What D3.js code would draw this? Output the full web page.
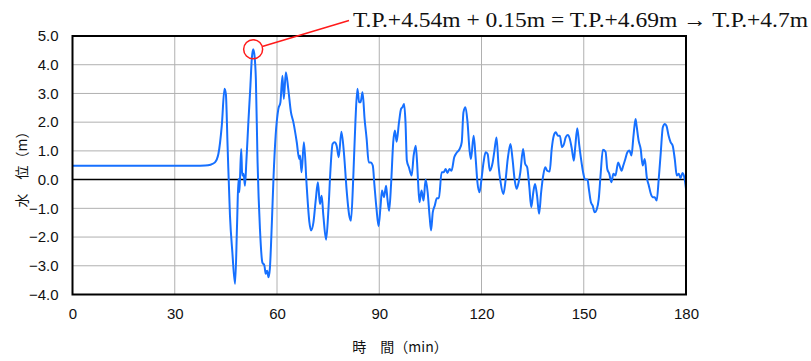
<!DOCTYPE html>
<html>
<head>
<meta charset="utf-8">
<script src="https://cdn.jsdelivr.net/npm/d3@7"></script>
<style>
  body { margin: 0; background: #fff; }
  svg { display: block; }
  .tick text { font-family: "Liberation Sans", Arial, sans-serif; font-size: 15px; fill: #111; }
</style>
</head>
<body>
<svg width="811" height="361"></svg>
<script>
// time (min) and water level (m)
var times = [0, 20, 36, 38.9, 40.5, 41.8, 42.8, 43.8, 44.6, 45.0, 45.5, 46.2, 46.9, 47.7, 48.3, 48.7, 48.9, 49.1, 49.5, 49.8,
  50.2, 50.6, 51.0, 51.6, 52.2, 52.6, 53.0, 53.4, 53.8, 54.3, 55.0, 55.7, 56.3, 56.7, 57.1, 57.5, 57.9, 58.5, 59.0, 59.6,
  60.4, 61.0, 61.6, 62.0, 62.6, 63.3, 64.1, 64.8, 65.8, 66.5, 66.75, 67.2, 67.9, 68.7, 69.5, 70.0, 70.7, 71.4, 72.0, 72.6,
  73.1, 73.6, 74.4, 75.1, 75.7, 76.3, 76.9, 77.5, 78.1, 78.9, 79.7, 80.4, 81.2, 81.7, 82.4, 83.0, 83.6, 84.1, 84.5, 85.1,
  85.7, 86.3, 86.9, 87.5, 88.1, 88.6, 89.2, 89.8, 90.4, 90.8, 91.4, 92.0, 92.4, 92.9, 93.5, 94.1, 94.6, 95.1, 95.8, 96.4,
  96.8, 97.3, 97.7, 98.1, 98.7, 99.5, 100.1, 100.7, 101.1, 101.4, 101.8, 102.4, 103.0, 103.6, 104.2, 104.8, 105.2, 105.7, 106.3, 106.9,
  107.5, 108.3, 108.9, 109.5, 110.0, 110.6, 111.2, 112.0, 112.8, 113.6, 114.2, 114.7, 115.3, 115.9, 116.5, 116.9, 117.7, 118.3, 118.8, 119.4,
  120.0, 120.6, 121.2, 121.8, 122.45, 123.2, 123.8, 124.4, 125.0, 125.6, 126.4, 127.0, 127.7, 128.5, 129.1, 129.7, 130.3, 130.9, 131.4, 132.2,
  132.8, 133.4, 134.0, 134.6, 135.2, 135.7, 136.3, 136.9, 137.5, 138.1, 138.7, 139.3, 140.0, 140.6, 141.2, 141.8, 142.4, 143.0, 143.6, 144.2,
  144.7, 145.3, 145.9, 146.5, 147.1, 147.5, 148.1, 148.7, 149.2, 149.8, 150.4, 151.1, 151.5, 152.1, 152.6, 153.2, 153.8, 154.4, 155.0, 155.6,
  156.4, 156.9, 157.5, 158.1, 158.7, 159.3, 160.1, 160.5, 161.1, 161.6, 162.2, 162.8, 163.4, 164.0, 164.6, 165.2, 165.5, 166.1, 166.7, 167.3,
  167.9, 168.5, 169.1, 169.7, 170.2, 170.8, 171.4, 172.0, 172.6, 173.2, 173.8, 174.3, 174.9, 175.5, 176.1, 176.7, 177.3, 177.9, 178.4, 179.0,
  179.6, 180.0];
var levels = [0.48, 0.48, 0.48, 0.49, 0.52, 0.6, 0.89, 1.88, 3.16, 2.98, 1.18, -1.25, -2.53, -3.63, -1.48, 0.02, -0.44, -0.09, 1.07, 0.14,
  0.2, -0.21, 0.6, 2.0, 3.27, 4.2, 4.54, 4.32, 3.5, 0.6, -1.72, -2.88, -2.99, -3.28, -3.17, -3.4, -3.11, -1.48, 0.14, 1.53,
  2.46, 2.69, 3.62, 2.81, 3.74, 3.16, 2.34, 2.0, 1.3, 0.72, 0.84, 0.26, 1.3, -0.21, -1.48, -1.77, -1.48, -0.67, -0.09, -0.85,
  -0.56, -1.25, -2.09, -1.02, 0.37, 1.24, 1.3, 1.18, 0.78, 1.67, 0.84, -0.32, -1.25, -1.43, 0.14, 2.0, 3.16, 2.69, 2.69, 3.04,
  2.11, 1.42, 0.6, 0.6, 0.49, -0.21, -1.02, -1.62, -0.9, -0.38, -0.61, -0.21, -0.67, -1.08, -0.09, 1.3, 1.71, 1.32, 2.0, 2.46,
  2.52, 2.63, 2.0, 0.66, 0.43, 0.14, 0.84, 1.18, 0.6, -0.09, -0.79, -0.38, -0.73, 0.0, -0.44, -1.32, -1.77, -1.14, -0.9, -0.65,
  -0.65, 0.26, 0.26, 0.37, 0.23, 0.37, 0.31, 0.78, 0.95, 1.07, 1.3, 2.34, 2.52, 2.0, 1.01, 0.72, 1.53, 0.72, -0.09, -0.44,
  0.02, 0.6, 0.95, 0.89, 0.31, 0.55, 1.01, 1.47, 0.49, -0.09, -0.5, -0.09, 0.72, 1.24, 0.72, 0.02, -0.32, -0.09, 0.26, 1.07,
  0.55, 0.43, -0.21, -0.96, -0.44, -0.15, -0.56, -1.19, -0.44, 0.14, 0.43, 0.31, 0.28, 1.07, 1.53, 1.65, 1.53, 1.53, 1.13, 1.24,
  1.47, 1.55, 1.42, 1.07, 0.66, 1.13, 1.79, 1.18, 0.72, 0.26, 0.0, 0.0, -0.32, -0.79, -0.9, -1.14, -1.04, -0.67, 0.26, 1.04,
  0.97, 0.37, 0.2, -0.09, 0.2, 0.14, 0.6, 0.49, 0.31, 0.49, 0.72, 0.95, 1.01, 0.84, 1.53, 2.11, 1.88, 1.36, 1.07, 0.49,
  0.72, 0.08, -0.21, -0.5, -0.61, -0.61, -0.73, 0.02, 0.95, 1.82, 1.94, 1.86, 1.53, 1.3, 1.18, 0.72, 0.14, 0.2, 0.05, 0.23,
  0.02, -0.32];

var xTicks = [0, 30, 60, 90, 120, 150, 180];
var yTicks = [-4, -3, -2, -1, 0, 1, 2, 3, 4, 5];
var peakTime = 53, peakLevel = 4.54;
var note = "T.P.+4.54m + 0.15m = T.P.+4.69m \u2192 T.P.+4.7m";

var svg = d3.select("svg");
var margin = { top: 36, right: 125, bottom: 66.5, left: 72.5 };
var width = 811 - margin.left - margin.right;
var height = 361 - margin.top - margin.bottom;

var xScale = d3.scaleLinear().domain([0, 180]).range([margin.left, margin.left + width]);
var yScale = d3.scaleLinear().domain([-4, 5]).range([margin.top + height, margin.top]);

// grid
svg.append("g")
  .selectAll("line.vg")
  .data(xTicks.slice(1, -1))
  .enter().append("line")
  .attr("x1", function (d) { return xScale(d); })
  .attr("x2", function (d) { return xScale(d); })
  .attr("y1", margin.top).attr("y2", margin.top + height)
  .attr("stroke", "#b0b0b0").attr("stroke-width", 1);

svg.append("g")
  .selectAll("line.hg")
  .data(yTicks.filter(function (d) { return d !== 0 && d !== 5 && d !== -4; }))
  .enter().append("line")
  .attr("x1", margin.left).attr("x2", margin.left + width)
  .attr("y1", function (d) { return yScale(d); })
  .attr("y2", function (d) { return yScale(d); })
  .attr("stroke", "#b0b0b0").attr("stroke-width", 1);

// zero line
svg.append("line")
  .attr("x1", margin.left).attr("x2", margin.left + width)
  .attr("y1", yScale(0)).attr("y2", yScale(0))
  .attr("stroke", "#000").attr("stroke-width", 1.5);

// axes (labels only)
var xAxis = svg.append("g")
  .attr("transform", "translate(0," + (margin.top + height) + ")")
  .call(d3.axisBottom(xScale).tickValues(xTicks).tickSize(0).tickPadding(14).tickFormat(d3.format("d")));
xAxis.select(".domain").remove();

var yAxis = svg.append("g")
  .attr("transform", "translate(" + margin.left + ",0)")
  .call(d3.axisLeft(yScale).tickValues(yTicks).tickSize(0).tickPadding(14)
    .tickFormat(function (d) { return d3.format(".1f")(d).replace("-", "\u2212"); }));
yAxis.select(".domain").remove();

// water level line
var line = d3.line()
  .x(function (d, i) { return xScale(times[i]); })
  .y(function (d) { return yScale(d); })
  .curve(d3.curveMonotoneX);

svg.append("path")
  .datum(levels)
  .attr("fill", "none")
  .attr("stroke", "#1670ff")
  .attr("stroke-width", 2)
  .attr("stroke-linejoin", "round")
  .attr("d", line);

// frame
svg.append("rect")
  .attr("x", margin.left).attr("y", margin.top)
  .attr("width", width).attr("height", height)
  .attr("fill", "none").attr("stroke", "#000").attr("stroke-width", 2);

// annotation
var cx = xScale(peakTime), cy = yScale(peakLevel), r = 9.5;
svg.append("circle")
  .attr("cx", cx).attr("cy", cy).attr("r", r)
  .attr("fill", "none").attr("stroke", "#ff1a1a").attr("stroke-width", 1.5);

var tx = 349, ty = 20.5;
var ang = Math.atan2(ty - cy, tx - cx);
svg.append("line")
  .attr("x1", cx + r * Math.cos(ang)).attr("y1", cy + r * Math.sin(ang))
  .attr("x2", tx).attr("y2", ty)
  .attr("stroke", "#ff1a1a").attr("stroke-width", 1.5);

svg.append("text")
  .attr("x", 353).attr("y", 27)
  .attr("font-family", "'Liberation Serif', 'DejaVu Serif', serif")
  .attr("font-size", 21)
  .attr("textLength", 455)
  .attr("lengthAdjust", "spacingAndGlyphs")
  .attr("fill", "#111")
  .text(note);

// axis titles
svg.append("text")
  .attr("x", 400).attr("y", 352)
  .attr("text-anchor", "middle")
  .attr("font-family", "'Noto Sans CJK JP', sans-serif")
  .attr("font-size", 14)
  .attr("fill", "#111")
  .text("時\u3000間\uFF08min\uFF09");

svg.append("text")
  .attr("transform", "translate(27,166) rotate(-90)")
  .attr("text-anchor", "middle")
  .attr("font-family", "'Noto Sans CJK JP', sans-serif")
  .attr("font-size", 14)
  .attr("fill", "#111")
  .text("水\u3000位\uFF08m\uFF09");
</script>
</body>
</html>
